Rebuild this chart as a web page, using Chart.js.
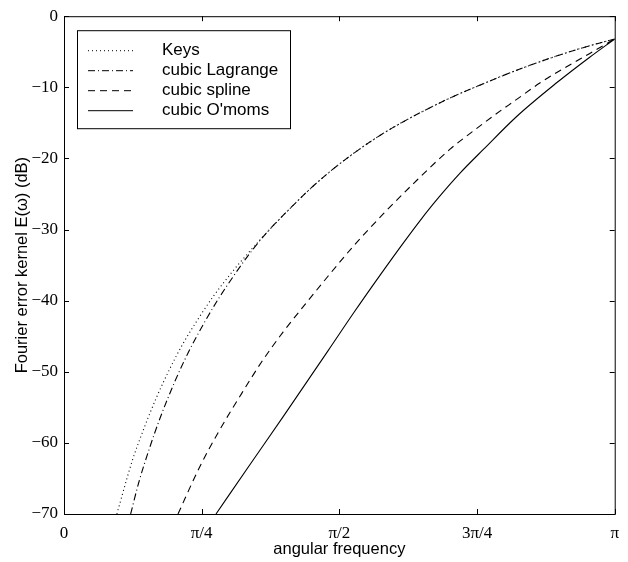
<!DOCTYPE html>
<html>
<head>
<meta charset="utf-8">
<script src="https://cdn.jsdelivr.net/npm/chart.js@4/dist/chart.umd.min.js"></script>
<style>
  html, body { margin: 0; padding: 0; background: #fff; }
  #wrap { width: 628px; height: 562px; position: relative; }
</style>
</head>
<body>
<div id="wrap"><canvas id="c" width="628" height="562"></canvas></div>
<script>
// x values are in units of pi (0 .. 1), y values in dB
const xTickLabels = ['0', 'π/4', 'π/2', '3π/4', 'π'];
const seriesLabels = ['Keys', 'cubic Lagrange', 'cubic spline', "cubic O'moms"];

const keysX = [0.096, 0.124, 0.146, 0.168, 0.192, 0.215, 0.245, 0.272, 0.305, 0.320, 0.365, 0.407, 0.458, 0.510, 0.569, 0.617, 0.701, 0.755, 0.822, 0.906, 0.966, 1.0];
const keysY = [-70, -62.5, -57.8, -53.6, -49.6, -46.2, -42.4, -39.3, -36.0, -34.6, -30.7, -27.3, -23.5, -20.2, -17.0, -14.8, -11.5, -9.7, -7.6, -5.3, -3.9, -3.2];

const lagrangeX = [0.121, 0.136, 0.155, 0.175, 0.200, 0.225, 0.254, 0.280, 0.310, 0.335, 0.365, 0.407, 0.458, 0.510, 0.569, 0.617, 0.701, 0.755, 0.822, 0.906, 0.966, 1.0];
const lagrangeY = [-70, -65.5, -60.8, -56.4, -51.6, -47.4, -43.2, -39.8, -36.3, -33.6, -30.7, -27.3, -23.5, -20.2, -17.0, -14.8, -11.5, -9.7, -7.6, -5.3, -3.9, -3.2];

const splineX = [0.207, 0.245, 0.281, 0.323, 0.359, 0.398, 0.437, 0.479, 0.527, 0.581, 0.635, 0.701, 0.744, 0.780, 0.822, 0.864, 0.906, 0.942, 0.978, 1.0];
const splineY = [-70, -63.6, -58.4, -53.0, -48.6, -44.4, -40.6, -36.6, -32.2, -27.7, -23.5, -18.7, -16.1, -14.0, -11.7, -9.4, -7.4, -5.8, -4.2, -3.2];

const omomsX = [0.276, 0.340, 0.398, 0.479, 0.527, 0.575, 0.617, 0.647, 0.677, 0.720, 0.762, 0.822, 0.894, 0.954, 1.0];
const omomsY = [-70, -62.8, -56.3, -47.1, -41.6, -36.3, -31.8, -28.7, -25.8, -22.0, -18.7, -14.1, -9.4, -5.8, -3.2];

const xTitle = 'angular frequency';
const yTitle = 'Fourier error kernel E(ω) (dB)';

function pts(xs, ys) { return xs.map((x, i) => ({ x: x, y: ys[i] })); }

const dashes = [[1, 3], [7, 3, 1, 3], [7, 5], []];
const allX = [keysX, lagrangeX, splineX, omomsX];
const allY = [keysY, lagrangeY, splineY, omomsY];

const datasets = seriesLabels.map((lab, i) => ({
  label: lab,
  data: pts(allX[i], allY[i]),
  borderColor: '#000',
  borderWidth: 1.1,
  borderDash: dashes[i],
  pointRadius: 0,
  fill: false,
  cubicInterpolationMode: 'monotone'
}));

const framePlugin = {
  id: 'frame',
  beforeDraw(chart) {
    const ctx = chart.ctx;
    ctx.save();
    ctx.fillStyle = '#fff';
    ctx.fillRect(0, 0, chart.width, chart.height);
    ctx.restore();
  },
  afterDraw(chart) {
    const ctx = chart.ctx;
    const a = chart.chartArea;
    const xs = chart.scales.x, ys = chart.scales.y;
    ctx.save();
    ctx.strokeStyle = '#000';
    ctx.lineWidth = 1;
    ctx.setLineDash([]);
    ctx.strokeRect(a.left + 0.5, a.top + 0.5, a.right - a.left, a.bottom - a.top);
    const tl = 5;
    ctx.beginPath();
    xs.ticks.forEach(t => {
      const px = Math.round(xs.getPixelForValue(t.value)) + 0.5;
      ctx.moveTo(px, a.bottom); ctx.lineTo(px, a.bottom - tl);
      ctx.moveTo(px, a.top); ctx.lineTo(px, a.top + tl);
    });
    ys.ticks.forEach(t => {
      const py = Math.round(ys.getPixelForValue(t.value)) + 0.5;
      ctx.moveTo(a.left, py); ctx.lineTo(a.left + tl, py);
      ctx.moveTo(a.right, py); ctx.lineTo(a.right - tl, py);
    });
    ctx.stroke();

    // legend box
    const lx = a.left + 13, ly = a.top + 14, lw = 213, lh = 98;
    ctx.fillStyle = '#fff';
    ctx.fillRect(lx, ly, lw, lh);
    ctx.strokeRect(lx + 0.5, ly + 0.5, lw, lh);
    ctx.font = '17px "Liberation Sans", Arial, sans-serif';
    ctx.textBaseline = 'middle';
    ctx.textAlign = 'left';
    chart.data.datasets.forEach((ds, i) => {
      const ry = ly + 20 + i * 20;
      ctx.beginPath();
      ctx.setLineDash(ds.borderDash);
      ctx.moveTo(lx + 11, ry + 0.5);
      ctx.lineTo(lx + 56, ry + 0.5);
      ctx.stroke();
      ctx.setLineDash([]);
      ctx.fillStyle = '#000';
      ctx.fillText(ds.label, lx + 85, ry);
    });
    ctx.restore();
  }
};

new Chart(document.getElementById('c'), {
  type: 'line',
  data: { datasets: datasets },
  options: {
    responsive: false,
    animation: false,
    devicePixelRatio: 1,
    layout: { padding: { top: 14, right: 8, left: 0, bottom: 0 } },
    plugins: { legend: { display: false }, tooltip: { enabled: false } },
    scales: {
      x: {
        type: 'linear',
        min: 0, max: 1,
        grid: { display: false, drawTicks: false },
        border: { display: false },
        ticks: {
          stepSize: 0.25,
          padding: 9,
          color: '#000',
          font: { family: '"Liberation Serif", "Times New Roman", serif', size: 17 },
          maxRotation: 0,
          callback: (v) => xTickLabels[Math.round(v * 4)]
        },
        title: {
          display: true, text: xTitle, color: '#000',
          font: { family: '"Liberation Sans", Arial, sans-serif', size: 16.5, lineHeight: 1.2 },
          padding: { top: 0, bottom: 3 }
        },
        afterFit: (s) => { s.height = 48; }
      },
      y: {
        type: 'linear',
        min: -70, max: 0,
        grid: { display: false, drawTicks: false },
        border: { display: false },
        ticks: {
          stepSize: 10,
          padding: 6,
          color: '#000',
          font: { family: '"Liberation Serif", "Times New Roman", serif', size: 17 },
          callback: (v) => (v < 0 ? '\u2212' + Math.abs(v) : String(v))
        },
        title: {
          display: true, text: yTitle, color: '#000',
          font: { family: '"Liberation Sans", Arial, sans-serif', size: 16.5, lineHeight: 1.2 },
          padding: { top: 13, bottom: 0 }
        },
        afterFit: (s) => { s.width = 64; }
      }
    }
  },
  plugins: [framePlugin]
});
</script>
</body>
</html>
